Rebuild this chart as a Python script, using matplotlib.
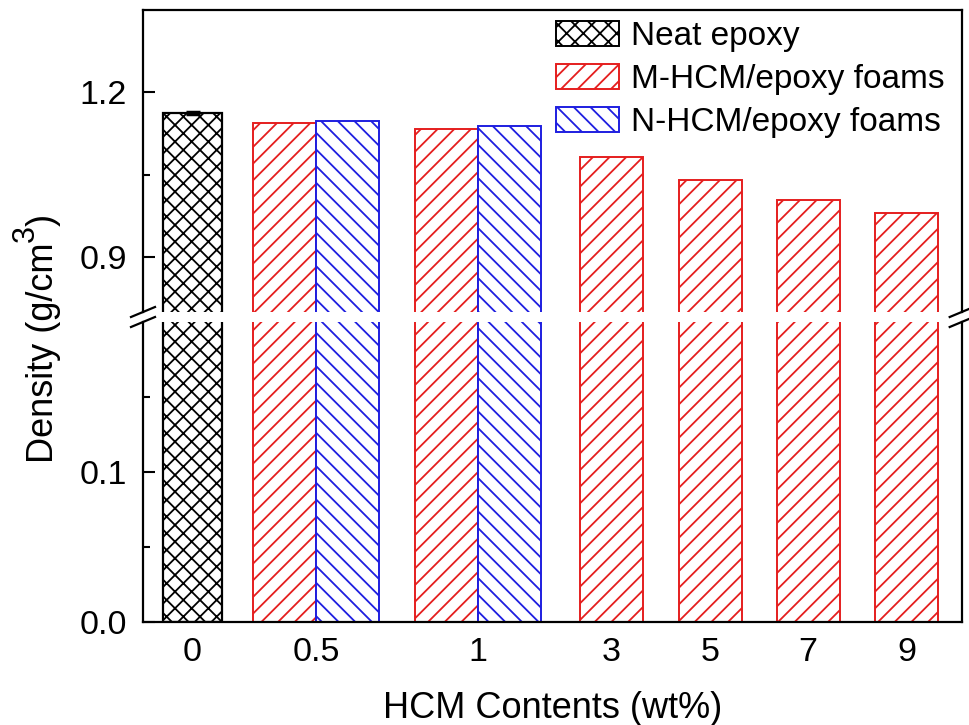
import matplotlib
matplotlib.use("Agg")
import matplotlib.pyplot as plt
from matplotlib.ticker import FixedLocator, FormatStrFormatter
from matplotlib.patches import Patch

plt.rcParams['font.family'] = ['Liberation Sans', 'DejaVu Sans']
plt.rcParams['hatch.linewidth'] = 1.3

# density data (g/cm3) against HCM content (wt%)
contents = ['0', '0.5', '1', '3', '5', '7', '9']
neat_density = 1.162
neat_err = 0.002
m_contents = ['0.5', '1', '3', '5', '7', '9']
m_density = [1.145, 1.133, 1.083, 1.040, 1.004, 0.980]
n_contents = ['0.5', '1']
n_density = [1.148, 1.139]

# category centres along the x axis (uneven spacing)
xpos = dict(zip(contents, [0.495, 1.73, 3.35, 4.68, 5.67, 6.65, 7.64]))
width = 0.63

RED = '#E51E1E'
BLUE = '#1E1EE0'

fig = plt.figure(figsize=(9.69, 7.25), dpi=100)
W, H = 969, 725
left, right = 143, 961.7
ax_hi = fig.add_axes([left / W, 1 - 312 / H, (right - left) / W, 302 / H])
ax_lo = fig.add_axes([left / W, 1 - 622 / H, (right - left) / W, 300 / H])


def draw_bars(ax):
    ax.bar(xpos['0'], neat_density, width=0.6, facecolor='white',
           edgecolor='black', hatch='xx', linewidth=1.6)
    for c, v in zip(m_contents, m_density):
        x = xpos[c] - width / 2 if c in n_contents else xpos[c]
        ax.bar(x, v, width=width, facecolor='white', edgecolor=RED,
               hatch='//', linewidth=1.4)
    for c, v in zip(n_contents, n_density):
        ax.bar(xpos[c] + width / 2, v, width=width, facecolor='white',
               edgecolor=BLUE, hatch='\\\\', linewidth=1.4)
    ax.errorbar(xpos['0'], neat_density, yerr=neat_err, fmt='none',
                ecolor='black', elinewidth=2, capsize=5, capthick=2.5)


for ax in (ax_hi, ax_lo):
    draw_bars(ax)
    ax.set_xlim(0, (right - left) / 100)
    for s in ax.spines.values():
        s.set_linewidth(1.6)
    ax.tick_params(axis='y', which='major', direction='in', length=8.6,
                   width=1.5, pad=11.5, labelsize=24.5, right=False)
    ax.tick_params(axis='y', which='minor', direction='in', length=5,
                   width=1.5, right=False)
    ax.yaxis.set_major_formatter(FormatStrFormatter('%.1f'))

ax_hi.set_ylim(0.8, 1.35)
ax_hi.yaxis.set_major_locator(FixedLocator([0.9, 1.2]))
ax_hi.yaxis.set_minor_locator(FixedLocator([1.05]))
ax_hi.spines['bottom'].set_visible(False)
ax_hi.set_xticks([])

ax_lo.set_ylim(0, 0.2)
ax_lo.yaxis.set_major_locator(FixedLocator([0.0, 0.1]))
ax_lo.yaxis.set_minor_locator(FixedLocator([0.05, 0.15]))
ax_lo.spines['top'].set_visible(False)
ax_lo.set_xticks([xpos[c] for c in contents])
ax_lo.set_xticklabels(contents)
ax_lo.tick_params(axis='x', length=0, pad=11, labelsize=24.5)
ax_lo.set_xlabel('HCM Contents (wt%)', fontsize=26, labelpad=16)

# axis break marks
dx = 12 / (right - left)
for ax, y, dy in ((ax_hi, 0, 5 / 302), (ax_lo, 1, 5 / 300)):
    for x in (0, 1):
        ax.plot([x - dx, x + dx], [y - dy, y + dy], transform=ax.transAxes,
                color='black', linewidth=1.6, clip_on=False)

# y label built in pieces so the superscript stays large
t1 = fig.text(61 / W, 1 - 463 / H, 'Density (g/cm', rotation=90,
              ha='right', va='bottom', fontsize=26)
t2 = fig.add_artist(plt.Annotation('3', xy=(41 / W, 1.0),
                                   xycoords=('figure fraction', t1),
                                   rotation=90, ha='right', va='bottom',
                                   fontsize=22))
fig.add_artist(plt.Annotation(')', xy=(61 / W, 1.0),
                              xycoords=('figure fraction', t2),
                              rotation=90, ha='right', va='bottom',
                              fontsize=26))

handles = [
    Patch(facecolor='white', edgecolor='black', hatch='xx', linewidth=1.4),
    Patch(facecolor='white', edgecolor=RED, hatch='//', linewidth=1.4),
    Patch(facecolor='white', edgecolor=BLUE, hatch='\\\\', linewidth=1.4),
]
ax_hi.legend(handles, ['Neat epoxy', 'M-HCM/epoxy foams', 'N-HCM/epoxy foams'],
             loc='upper left', bbox_to_anchor=(556 / W, 1 - 21 / H),
             bbox_transform=fig.transFigure, frameon=False, fontsize=24,
             handlelength=1.9, handleheight=0.75, handletextpad=0.35,
             labelspacing=0.36, borderpad=0, borderaxespad=0)

fig.savefig('out.png', dpi=100)
